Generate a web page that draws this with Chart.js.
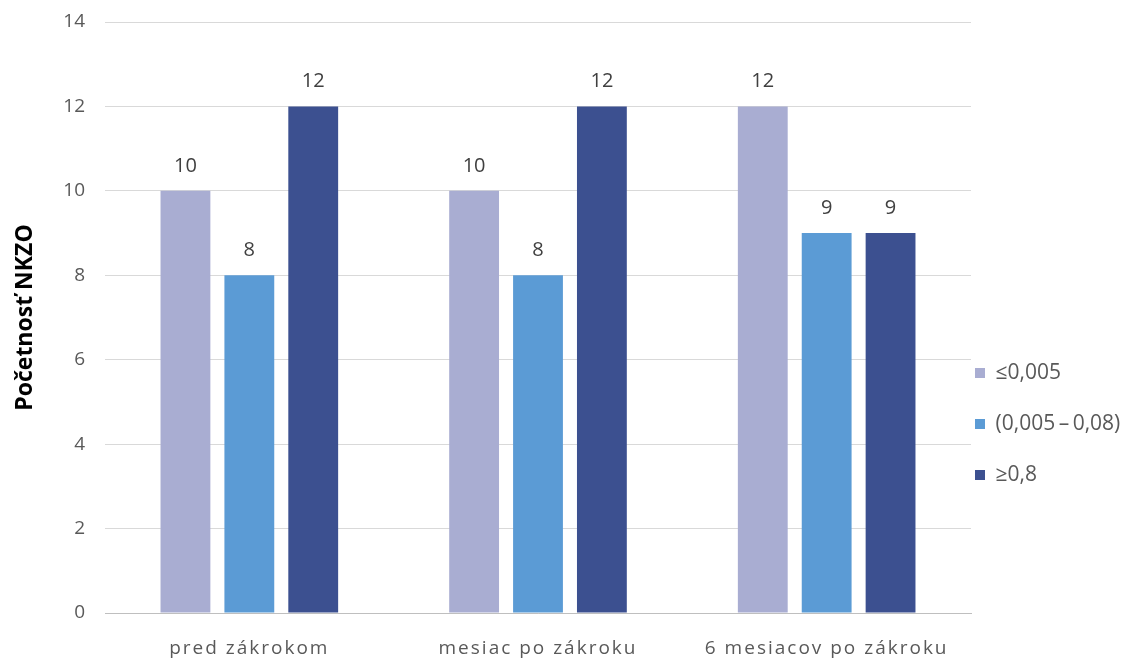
<!DOCTYPE html>
<html lang="sk">
<head>
    <meta charset="UTF-8">
    <title>Početnosť NKZO</title>
    <script src="https://cdn.jsdelivr.net/npm/chart.js"></script>
    <style>
        html, body { margin: 0; padding: 0; background: #fff; }
        .chart-box { width: 1133px; height: 668px; }
    </style>
</head>
<body>
    <div class="chart-box">
        <canvas id="nkzoChart"></canvas>
    </div>

    <script>
        // data
        const categories = ['pred zákrokom', 'mesiac po zákroku', '6 mesiacov po zákroku'];
        const seriesNames = ['≤0,005', '(0,005\u2009–\u20090,08)', '≥0,8'];
        const lowValues = [10, 10, 12];
        const midValues = [8, 8, 9];
        const highValues = [12, 12, 9];
        const yTicks = [0, 2, 4, 6, 8, 10, 12, 14];

        const colors = ['#a9add2', '#5b9bd5', '#3c5090'];
        const textColor = '#595959';
        const font = "'Open Sans', sans-serif";

        // values above the bars (no datalabels plugin offline)
        const barValues = {
            id: 'barValues',
            afterDatasetsDraw(chart) {
                const ctx = chart.ctx;
                ctx.save();
                ctx.font = "20px " + font;
                ctx.fillStyle = '#404040';
                ctx.textAlign = 'center';
                ctx.textBaseline = 'middle';
                chart.data.datasets.forEach((ds, i) => {
                    chart.getDatasetMeta(i).data.forEach((bar, j) => {
                        ctx.fillText(ds.data[j], bar.x, bar.y - 25);
                    });
                });
                ctx.restore();
                // category labels (drawn after this, z: 1) are spaced out in the original
                ctx.letterSpacing = '2px';
            },
            afterDraw(chart) {
                chart.ctx.letterSpacing = '0px';
            }
        };

        // move the legend next to the plot and lower, as in the original
        // (only left edge moves so the legend's clip box still holds the text)
        const legendShift = {
            id: 'legendShift',
            afterLayout(chart) {
                const lg = chart.legend;
                if (!lg) return;
                lg.left = chart.chartArea.right + 4 - lg.options.labels.padding;
                lg.top += 79;
                lg.bottom += 79;
            }
        };

        const ctx = document.getElementById('nkzoChart').getContext('2d');
        new Chart(ctx, {
            type: 'bar',
            data: {
                labels: categories,
                datasets: [
                    { label: seriesNames[0], data: lowValues, backgroundColor: colors[0] },
                    { label: seriesNames[1], data: midValues, backgroundColor: colors[1] },
                    { label: seriesNames[2], data: highValues, backgroundColor: colors[2] }
                ]
            },
            options: {
                responsive: true,
                maintainAspectRatio: false,
                animation: false,
                datasets: {
                    bar: { categoryPercentage: 0.664, barPercentage: 0.78 }
                },
                layout: { padding: { top: 22, right: 0, bottom: 0, left: 12 } },
                plugins: {
                    tooltip: { enabled: false },
                    legend: {
                        position: 'right',
                        align: 'center',
                        maxWidth: 162,
                        labels: {
                            boxWidth: 10,
                            boxHeight: 10,
                            padding: 30,
                            color: textColor,
                            font: { family: font, size: 21 }
                        }
                    }
                },
                scales: {
                    x: {
                        grid: { display: false, drawTicks: false },
                        border: { display: true, color: '#bfbfbf' },
                        afterFit(scale) { scale.height = 55; },
                        ticks: {
                            color: textColor,
                            padding: 24,
                            maxRotation: 0,
                            autoSkip: false,
                            z: 1,
                            font: { family: font, size: 19 }
                        }
                    },
                    y: {
                        min: 0,
                        max: 14,
                        afterBuildTicks(scale) {
                            scale.ticks = yTicks.map(v => ({ value: v }));
                        },
                        afterFit(scale) {
                            scale.width = 93;
                            scale.paddingTop = 0;
                            scale.paddingBottom = 0;
                        },
                        grid: { color: '#d9d9d9', drawTicks: false },
                        border: { display: false },
                        ticks: {
                            color: textColor,
                            padding: 20,
                            font: { family: font, size: 19 }
                        },
                        title: {
                            display: true,
                            text: 'Početnosť NKZO',
                            color: '#000',
                            padding: { top: 0, bottom: 0 },
                            font: { family: font, size: 23, weight: 'bold' }
                        }
                    }
                }
            },
            plugins: [barValues, legendShift]
        });
    </script>
</body>
</html>
